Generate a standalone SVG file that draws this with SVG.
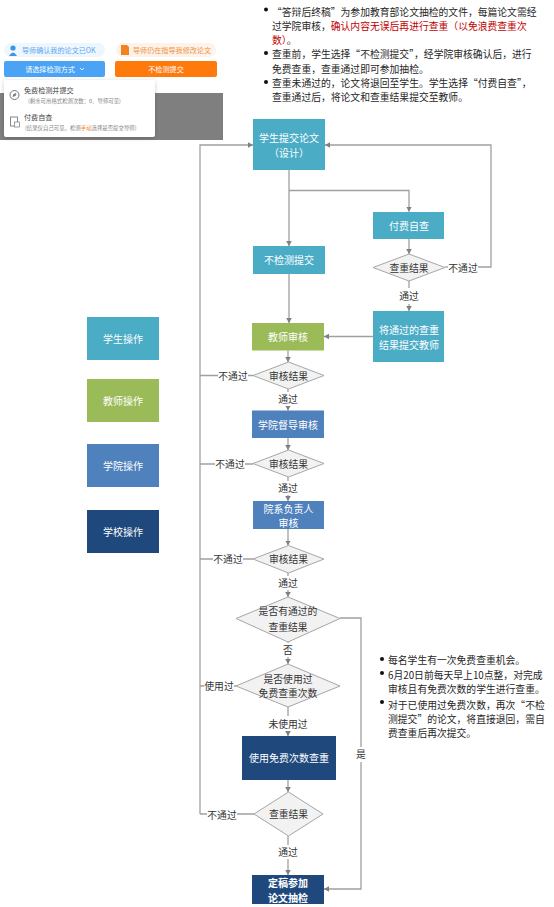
<svg xmlns="http://www.w3.org/2000/svg" width="554" height="907" viewBox="0 0 554 907">
<style>
text{font-family:"Noto Sans CJK SC","Liberation Sans",sans-serif}
.n{fill:#fff;font-size:10px;text-anchor:middle}
.l{fill:#333;font-size:9.800px;text-anchor:middle}
.d{fill:#f2f2f2;stroke:#a6a6a6;stroke-width:1}
.t{fill:#262626;font-size:9.800px}
.r{fill:#c00000}
.c{fill:none;stroke:#a0a0a0;stroke-width:1.3}
.teal{fill:#4bacc6}.green{fill:#9bbb59}.blue{fill:#4f81bd}.navy{fill:#1f497d}
.bullet{fill:#111}
</style>
<defs>
<marker id="a" markerWidth="6" markerHeight="6" refX="5" refY="3" orient="auto" markerUnits="userSpaceOnUse"><path d="M0 0.2L5 3L0 5.8z" fill="#808080"/></marker>
<filter id="s" x="-10%" y="-10%" width="120%" height="125%"><feDropShadow dx="0" dy="1" stdDeviation="2" flood-color="#000" flood-opacity=".2"/></filter>
</defs>
<rect width="554" height="907" fill="#fff"/>

<g id="ui-panel">
<rect x="0" y="93" width="223" height="47" fill="#7f7f7f"/>
<rect x="4" y="43" width="101" height="14" rx="7" fill="#eef6fe"/>
<circle cx="13" cy="48" r="2.600" fill="#3f93e8"/><path d="M9 56q4-7 8 0z" fill="#3f93e8"/>
<text x="22" y="52.500" font-size="7.100" fill="#5aa9ee">导师确认我的论文已OK</text>
<rect x="116" y="43" width="100" height="14" rx="7" fill="#fdf3ea"/>
<path d="M121 45h6l2 2v8h-8z" fill="#f58220"/>
<text x="133" y="52.500" font-size="7.100" fill="#f0923c">导师仍在指导我修改论文</text>
<rect x="4" y="61" width="101" height="16" rx="2" fill="#4ba3f5"/>
<text x="50" y="71.500" font-size="7.100" fill="#fff" text-anchor="middle">请选择检测方式</text>
<path d="M80 68l2 2 2-2" fill="none" stroke="#fff" stroke-width=".8"/>
<rect x="115" y="61" width="102" height="16" rx="2" fill="#ff7a0c"/>
<text x="166" y="71.500" font-size="7.100" fill="#fff" text-anchor="middle">不检测提交</text>
<rect x="4" y="80" width="151" height="57" rx="2" fill="#fff" filter="url(#s)"/>
<circle cx="14.500" cy="95" r="4.500" fill="none" stroke="#777" stroke-width="1"/>
<path d="M12.500 97l1-3 3-1-1 3z" fill="#777"/>
<rect x="10.500" y="117" width="7" height="9" fill="none" stroke="#888" stroke-width="1"/>
<rect x="14.500" y="122" width="5" height="5" fill="#fff" stroke="#888" stroke-width=".8"/>
<text x="24" y="92.500" font-size="7.100" fill="#444">免费检测并提交</text>
<text x="28" y="103" font-size="5.400" fill="#888">(剩余可用格式检测次数：0、导师可见)</text>
<text x="24" y="119.500" font-size="7.100" fill="#444">付费自查</text>
<text x="25" y="130" font-size="5.400" fill="#888">(结果仅自己可见，检测<tspan fill="#f58220">手动</tspan>选择是否提交导师)</text>
</g>

<g id="notes-top">
<circle class="bullet" cx="266" cy="9.500" r="2"/>
<text class="t" x="272" y="15.500">“答辩后终稿”为参加教育部论文抽检的文件，每篇论文需经</text>
<text class="t" x="272" y="29.500">过学院审核，<tspan class="r">确认内容无误后再进行查重（以免浪费查重次</tspan></text>
<text class="t" x="272" y="43.500"><tspan class="r">数）</tspan>。</text>
<circle class="bullet" cx="266" cy="53" r="2"/>
<text class="t" x="272" y="57.500">查重前，学生选择“不检测提交”，经学院审核确认后，进行</text>
<text class="t" x="272" y="72.500">免费查重，查重通过即可参加抽检。</text>
<circle class="bullet" cx="266" cy="82" r="2"/>
<text class="t" x="272" y="86.500">查重未通过的，论文将退回至学生。学生选择“付费自查”，</text>
<text class="t" x="272" y="100.500">查重通过后，将论文和查重结果提交至教师。</text>
</g>

<g id="notes-bottom">
<circle class="bullet" cx="382" cy="659" r="2"/>
<text class="t" x="388" y="664">每名学生有一次免费查重机会。</text>
<circle class="bullet" cx="382" cy="673" r="2"/>
<text class="t" x="388" y="679">6月20日前每天早上10点整，对完成</text>
<text class="t" x="388" y="693">审核且有免费次数的学生进行查重。</text>
<circle class="bullet" cx="382" cy="702" r="2"/>
<text class="t" x="388" y="708.500">对于已使用过免费次数，再次“不检</text>
<text class="t" x="388" y="722.500">测提交”的论文，将直接退回，需自</text>
<text class="t" x="388" y="737">费查重后再次提交。</text>
</g>

<g id="connectors">
<path class="c" d="M289 170V246" marker-end="url(#a)"/>
<path class="c" d="M289 190.500H409V211.700" marker-end="url(#a)"/>
<path class="c" d="M289 274V323" marker-end="url(#a)"/>
<path class="c" d="M409 239V254" marker-end="url(#a)"/>
<path class="c" d="M409 281V288M409 304V311" marker-end="url(#a)"/>
<path class="c" d="M478 267H491V145H325" marker-end="url(#a)"/>
<path class="c" d="M445 267H448"/>
<path class="c" d="M373 336.500H324" marker-end="url(#a)"/>
<path class="c" d="M288 350.500V362" marker-end="url(#a)"/>
<path class="c" d="M288 389V392M288 406V410.500" marker-end="url(#a)"/>
<path class="c" d="M288 438V450" marker-end="url(#a)"/>
<path class="c" d="M288 477V481M288 495V501" marker-end="url(#a)"/>
<path class="c" d="M288 529V545.500" marker-end="url(#a)"/>
<path class="c" d="M288 573V576M288 590V597" marker-end="url(#a)"/>
<path class="c" d="M288 642V643M288 657V664" marker-end="url(#a)"/>
<path class="c" d="M288 707V716M288 731V736" marker-end="url(#a)"/>
<path class="c" d="M288 780V792" marker-end="url(#a)"/>
<path class="c" d="M288 836V845M288 859V875" marker-end="url(#a)"/>
<path class="c" d="M200 814V145H253" marker-end="url(#a)"/>
<path class="c" d="M200 375.500H218M248 375.500H253"/>
<path class="c" d="M200 464H215M245 464H253"/>
<path class="c" d="M200 559H213M243 559H253"/>
<path class="c" d="M200 686H204M234 686H236"/>
<path class="c" d="M200 814H207M237 814H254"/>
<path class="c" d="M340 618H361V747"/>
<path class="c" d="M361 762V889H324" marker-end="url(#a)"/>
</g>

<g id="legend-student"><rect class="teal" x="87" y="317" width="72" height="43"/><text class="n" x="123" y="343">学生操作</text></g>
<g id="legend-teacher"><rect class="green" x="87" y="379" width="72" height="43"/><text class="n" x="123" y="405">教师操作</text></g>
<g id="legend-college"><rect class="blue" x="87" y="444" width="72" height="43"/><text class="n" x="123" y="470">学院操作</text></g>
<g id="legend-school"><rect class="navy" x="87" y="510" width="72" height="43"/><text class="n" x="123" y="536">学校操作</text></g>

<g id="submit"><rect class="teal" x="253" y="119" width="72" height="51"/><text class="n" x="289" y="142">学生提交论文</text><text class="n" x="289" y="157">（设计）</text></g>
<g id="self-check"><rect class="teal" x="373" y="212" width="71" height="27"/><text class="n" x="409" y="230">付费自查</text></g>
<g id="d-check1"><polygon class="d" points="409,254 445,267.500 409,281 373,267.500"/><text class="l" x="409" y="271.500">查重结果</text></g>
<g id="send-result"><rect class="teal" x="373" y="311" width="71" height="51"/><text class="n" x="409" y="334">将通过的查重</text><text class="n" x="409" y="349">结果提交教师</text></g>
<g id="no-check"><rect class="teal" x="253" y="246" width="72" height="28"/><text class="n" x="289" y="264">不检测提交</text></g>
<g id="teacher"><rect class="green" x="252" y="323" width="72" height="27.500"/><text class="n" x="288" y="341">教师审核</text></g>
<g id="d-teacher"><polygon class="d" points="288.500,362 324,375.500 288.500,389 253,375.500"/><text class="l" x="288.500" y="379.500">审核结果</text></g>
<g id="supervisor"><rect class="blue" x="252" y="410.500" width="72" height="27.500"/><text class="n" x="288" y="429">学院督导审核</text></g>
<g id="d-supervisor"><polygon class="d" points="288.500,450 324,463.500 288.500,477 253,463.500"/><text class="l" x="288.500" y="468">审核结果</text></g>
<g id="dept-head"><rect class="blue" x="253" y="501" width="71" height="28"/><text class="n" x="288.500" y="512.500">院系负责人</text><text class="n" x="288.500" y="527">审核</text></g>
<g id="d-head"><polygon class="d" points="288.500,545.500 324,559 288.500,573 253,559"/><text class="l" x="288.500" y="563">审核结果</text></g>
<g id="d-passed"><polygon class="d" points="288,597 340,618.500 288,642 236,618.500"/><text class="l" x="288" y="615">是否有通过的</text><text class="l" x="288" y="631">查重结果</text></g>
<g id="d-used"><polygon class="d" points="288,664 340,686 288,707 236,686"/><text class="l" x="288" y="683">是否使用过</text><text class="l" x="288" y="697">免费查重次数</text></g>
<g id="free-check"><rect class="navy" x="242" y="736" width="94" height="44"/><text class="n" x="289" y="762">使用免费次数查重</text></g>
<g id="d-check2"><polygon class="d" points="288.500,792 323,814 288.500,836 254,814"/><text class="l" x="288.500" y="818">查重结果</text></g>
<g id="final"><rect class="navy" x="252" y="875" width="72" height="29"/><text class="n" font-weight="bold" x="288" y="887">定稿参加</text><text class="n" font-weight="bold" x="288" y="902">论文抽检</text></g>

<g id="labels">
<text class="l" x="463" y="271.500">不通过</text>
<text class="l" x="409" y="300">通过</text>
<text class="l" x="233" y="379.500">不通过</text>
<text class="l" x="288" y="403">通过</text>
<text class="l" x="230" y="468">不通过</text>
<text class="l" x="288" y="492">通过</text>
<text class="l" x="228" y="563">不通过</text>
<text class="l" x="288" y="587">通过</text>
<text class="l" x="288" y="654">否</text>
<text class="l" x="219" y="690">使用过</text>
<text class="l" x="288" y="727.500">未使用过</text>
<text class="l" x="222" y="819">不通过</text>
<text class="l" x="288" y="856">通过</text>
<text class="l" x="361" y="758">是</text>
</g>
</svg>
